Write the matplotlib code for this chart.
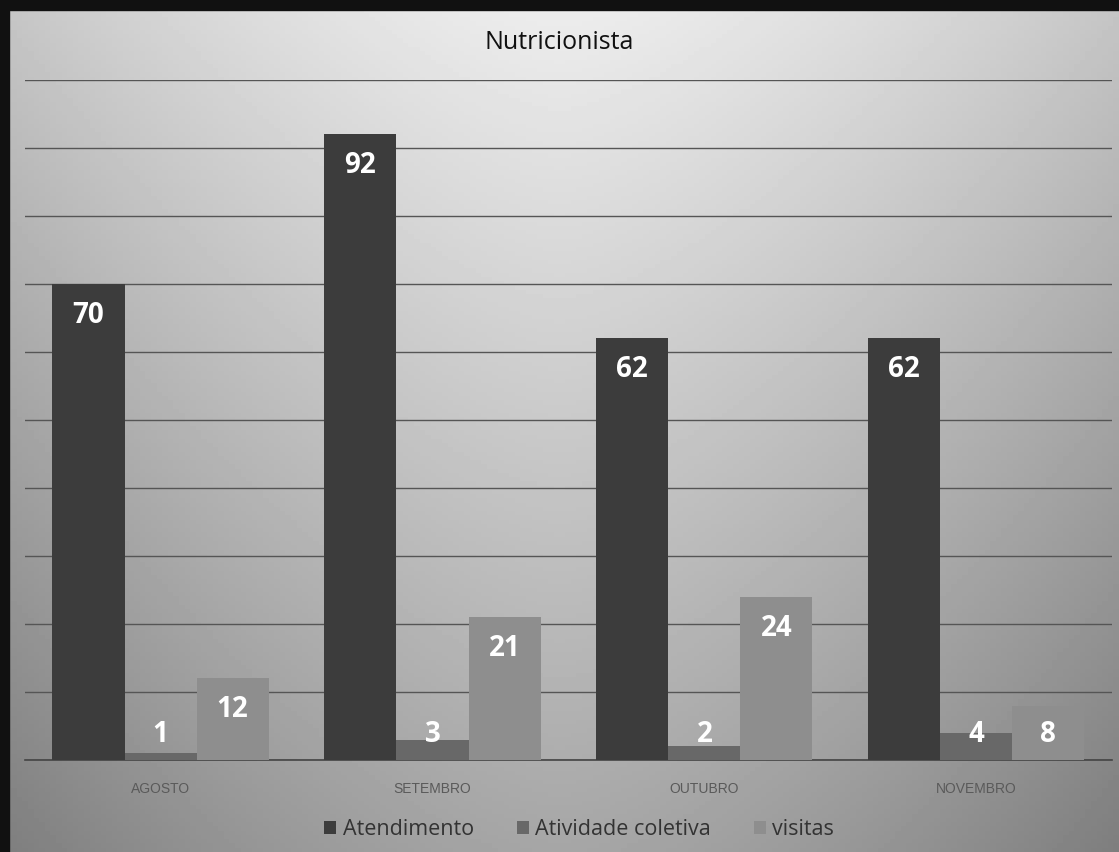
import matplotlib.pyplot as plt
import numpy as np

meses = ["AGOSTO", "SETEMBRO", "OUTUBRO", "NOVEMBRO"]
atendimento = [70, 92, 62, 62]
atividade_coletiva = [1, 3, 2, 4]
visitas = [12, 21, 24, 8]

series = [
    ("Atendimento", atendimento, "#3c3c3c"),
    ("Atividade coletiva", atividade_coletiva, "#686868"),
    ("visitas", visitas, "#8e8e8e"),
]

plt.rcParams['font.family'] = ['Open Sans', 'DejaVu Sans']

fig = plt.figure(figsize=(11.19, 8.52), dpi=100)

# fundo cinza (foto de slide): claro no topo e no centro, mais escuro nas bordas
bg = fig.add_axes([0, 0, 1, 1], zorder=0)
yy, xx = np.mgrid[0:1:200j, 0:1:200j]
shade = 0.93 - 0.28 * yy - 0.22 * np.abs(xx - 0.5) ** 1.5 * 2
bg.imshow(shade, cmap="gray", vmin=0, vmax=1, aspect="auto", extent=[0, 1, 0, 1])
bg.axvspan(0, 0.008, color="#111111")
bg.axhspan(0.988, 1, color="#111111")
bg.set_xlim(0, 1)
bg.set_ylim(0, 1)
bg.axis("off")

ax = fig.add_axes([0.022, 0.108, 0.972, 0.798], zorder=1)
ax.patch.set_alpha(0)

x = np.arange(len(meses))
w = 0.265
for i, (nome, vals, cor) in enumerate(series):
    pos = x + (i - 1) * w
    ax.bar(pos, vals, width=w, color=cor, label=nome, zorder=3)
    for px, v in zip(pos, vals):
        ax.text(px, max(v - 4.6, 3.8), str(v), ha="center", va="center",
                color="white", fontsize=20, fontweight="bold", zorder=4)

ax.set_xlim(-0.5, 3.5)
ax.set_ylim(0, 100)
ax.set_yticks(np.arange(0, 101, 10))
ax.set_yticklabels([])
ax.tick_params(axis="y", length=0)
ax.grid(axis="y", color="#555555", linewidth=1, zorder=1)
ax.set_xticks(x)
ax.set_xticklabels(meses, fontsize=10, color="#5a5a5a",
                   family=["Liberation Sans Narrow", "Liberation Sans"])
ax.tick_params(axis="x", length=0, pad=16)
for s in ["top", "right", "left"]:
    ax.spines[s].set_visible(False)
ax.spines["bottom"].set_color("#444444")
ax.spines["bottom"].set_linewidth(1.2)

fig.suptitle("Nutricionista", y=0.965, fontsize=18, color="#111111")
ax.legend(loc="upper center", bbox_to_anchor=(0.51, -0.058), ncol=3, frameon=False,
          fontsize=15.5, labelcolor="#333333", handlelength=0.55, handleheight=0.55,
          handletextpad=0.3, columnspacing=2.0)

plt.savefig("out.png", dpi=100)
